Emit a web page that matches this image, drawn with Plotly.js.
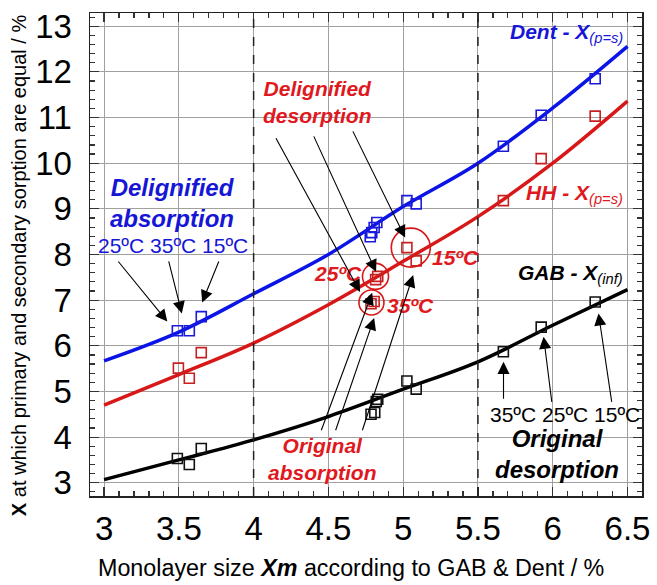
<!DOCTYPE html>
<html>
<head>
<meta charset="utf-8">
<script src="https://cdn.plot.ly/plotly-3.0.1.min.js"></script>
<style>html,body{margin:0;padding:0;background:#fff;}#chart{width:657px;height:585px;}</style>
</head>
<body>
<div id="chart"></div>
<script>
// Fitted curves
const curveX    = [3, 3.5, 4, 4.5, 5, 5.5, 6, 6.5];
const dentCurve = [5.67, 6.30, 7.14, 8.00, 9.05, 10.00, 11.21, 12.56];
const hhCurve   = [4.70, 5.37, 6.06, 6.90, 7.85, 8.83, 10.00, 11.36];
const gabCurve  = [3.07, 3.50, 3.94, 4.45, 5.05, 5.65, 6.45, 7.23];

// Experimental points
const dentX = [3.49, 3.57, 3.65, 4.824, 4.806, 4.79, 4.78, 5.025, 5.087, 5.67, 5.923, 6.284];
const dentY = [6.33, 6.33, 6.64, 8.70, 8.59, 8.48, 8.39, 9.18, 9.11, 10.37, 11.05, 11.85];
const hhX   = [3.497, 3.57, 3.65, 4.83, 4.816, 4.806, 4.785, 5.025, 5.087, 5.67, 5.923, 6.284];
const hhY   = [5.51, 5.29, 5.85, 7.52, 7.45, 6.97, 6.92, 8.15, 7.86, 9.18, 10.10, 11.03];
const gabX  = [3.49, 3.57, 3.65, 4.83, 4.82, 4.81, 4.785, 5.025, 5.087, 5.67, 5.923, 6.284];
const gabY  = [3.53, 3.40, 3.75, 4.83, 4.78, 4.54, 4.50, 5.23, 5.05, 5.87, 6.41, 6.96];

const xTicks = [3, 3.5, 4, 4.5, 5, 5.5, 6, 6.5];
const yTicks = [3, 4, 5, 6, 7, 8, 9, 10, 11, 12, 13];

const BLUE = '#0b14e6', RED = '#d81818', BLACK = '#000000';
const BLUE_T = '#1616d6', RED_T = '#e01820';
const FONT = 'Liberation Sans, Arial, sans-serif';

const traces = [
  {x: curveX, y: dentCurve, mode: 'lines', line: {color: BLUE, width: 3.5, shape: 'spline'}, hoverinfo: 'skip'},
  {x: curveX, y: hhCurve, mode: 'lines', line: {color: RED, width: 3.5, shape: 'spline'}, hoverinfo: 'skip'},
  {x: curveX, y: gabCurve, mode: 'lines', line: {color: BLACK, width: 3.5, shape: 'spline'}, hoverinfo: 'skip'},
  {x: dentX, y: dentY, mode: 'markers', marker: {symbol: 'square-open', size: 10, color: '#1a1adc', line: {width: 1.6}}},
  {x: hhX, y: hhY, mode: 'markers', marker: {symbol: 'square-open', size: 10, color: '#c82020', line: {width: 1.6}}},
  {x: gabX, y: gabY, mode: 'markers', marker: {symbol: 'square-open', size: 10, color: '#111', line: {width: 1.6}}}
];

function txt(text, x, y, color, size, extra) {
  return Object.assign({text: text, x: x, y: y, xref: 'x', yref: 'y', showarrow: false,
    font: {family: FONT, size: size, color: color}, xanchor: 'center', yanchor: 'middle'}, extra || {});
}
function arrow(hx, hy, tx, ty) {
  return {x: hx, y: hy, ax: tx, ay: ty, xref: 'x', yref: 'y', axref: 'x', ayref: 'y',
    text: '', showarrow: true, arrowhead: 2, arrowsize: 2.2, arrowwidth: 1.1, arrowcolor: '#000'};
}

const annotations = [
  txt('<b><i>Dent - X</i></b><sub><i>(p=s)</i></sub>', 6.485, 12.86, BLUE_T, 21, {xanchor: 'right'}),
  txt('<b><i>HH - X</i></b><sub><i>(p=s)</i></sub>', 6.485, 9.33, RED_T, 21, {xanchor: 'right'}),
  txt('<b><i>GAB - X</i></b><sub><i>(inf)</i></sub>', 6.485, 7.58, BLACK, 21, {xanchor: 'right'}),
  txt('<b><i>Delignified<br>absorption</i></b>', 3.458, 9.12, BLUE_T, 24),
  txt('25ºC 35ºC 15ºC', 3.46, 8.2, BLUE_T, 21),
  txt('<b><i>Delignified<br>desorption</i></b>', 4.43, 11.35, RED_T, 21),
  txt('<b><i>25ºC</i></b>', 4.566, 7.59, RED_T, 21),
  txt('<b><i>35ºC</i></b>', 5.05, 6.89, RED_T, 21),
  txt('<b><i>15ºC</i></b>', 5.35, 7.94, RED_T, 21),
  txt('<b><i>Original<br>absorption</i></b>', 4.458, 3.53, RED_T, 21),
  txt('35ºC 25ºC 15ºC', 6.084, 4.5, BLACK, 21),
  txt('<b><i>Original<br>desorption</i></b>', 6.03, 3.62, BLACK, 24),
  // blue absorption arrows
  arrow(3.423, 6.53, 3.087, 7.88),
  arrow(3.52, 6.71, 3.43, 7.88),
  arrow(3.656, 6.95, 3.771, 7.88),
  // delignified desorption arrows
  arrow(4.712, 7.18, 4.144, 10.58),
  arrow(4.819, 7.62, 4.398, 10.62),
  arrow(5.013, 8.37, 4.659, 10.73),
  // original absorption arrows
  arrow(4.793, 7.16, 4.449, 4.118),
  arrow(4.806, 6.61, 4.545, 4.118),
  arrow(5.067, 7.55, 4.724, 4.118),
  // original desorption arrows
  arrow(5.671, 5.65, 5.671, 4.81),
  arrow(5.939, 6.20, 5.995, 4.74),
  arrow(6.306, 6.71, 6.396, 4.74),
  // axis titles
  {text: 'Monolayer size <b><i>Xm</i></b> according to GAB &amp; Dent / %', xref: 'paper', yref: 'paper',
   x: 0.473, y: -0.149, showarrow: false, xanchor: 'center', yanchor: 'middle',
   font: {family: FONT, size: 23.3, color: '#000'}},
  {text: '<b>X</b> at which primary and secondary sorption are equal / %', xref: 'paper', yref: 'paper',
   x: -0.1286, y: 0.478, showarrow: false, xanchor: 'center', yanchor: 'middle', textangle: -90,
   font: {family: FONT, size: 20, color: '#000'}}
];

function circ(cx, cy, r) {
  return {type: 'circle', xref: 'x', yref: 'y', xsizemode: 'pixel', ysizemode: 'pixel',
    xanchor: cx, yanchor: cy, x0: -r, x1: r, y0: -r, y1: r, line: {color: RED, width: 1.6}};
}
const shapes = [
  {type: 'line', xref: 'x', yref: 'paper', x0: 4, x1: 4, y0: 0, y1: 1, line: {color: '#222', width: 1.5, dash: 'dash'}},
  {type: 'line', xref: 'x', yref: 'paper', x0: 5.5, x1: 5.5, y0: 0, y1: 1, line: {color: '#222', width: 1.5, dash: 'dash'}},
  circ(4.815, 7.52, 13),
  circ(4.788, 6.95, 12.5),
  circ(5.051, 8.15, 19.5)
];

const axisCommon = {
  showline: true, linecolor: '#222', linewidth: 1.5, mirror: 'allticks',
  ticks: 'inside', ticklen: 9, tickwidth: 1.2, tickcolor: '#333',
  showgrid: true, gridcolor: '#a0a0a0', gridwidth: 1, zeroline: false,
  tickfont: {family: FONT, size: 33, color: '#000'}
};

const layout = {
  width: 657, height: 585,
  margin: {l: 90, r: 15, t: 13, b: 89},
  paper_bgcolor: '#fff', plot_bgcolor: '#fff',
  showlegend: false,
  xaxis: Object.assign({}, axisCommon, {range: [2.906, 6.597], tickvals: xTicks, ticktext: xTicks.map(String),
    ticklabelstandoff: 3,
    minor: {dtick: 0.1, tick0: 3, ticks: 'inside', ticklen: 5, tickcolor: '#333', showgrid: false}}),
  yaxis: Object.assign({}, axisCommon, {range: [2.71, 13.29], tickvals: yTicks, ticktext: yTicks.map(String),
    ticklabelstandoff: 10,
    minor: {dtick: 0.2, tick0: 3, ticks: 'inside', ticklen: 5, tickcolor: '#333', showgrid: false}}),
  annotations: annotations,
  shapes: shapes
};

Plotly.newPlot('chart', traces, layout, {displayModeBar: false, staticPlot: true});
</script>
</body>
</html>
